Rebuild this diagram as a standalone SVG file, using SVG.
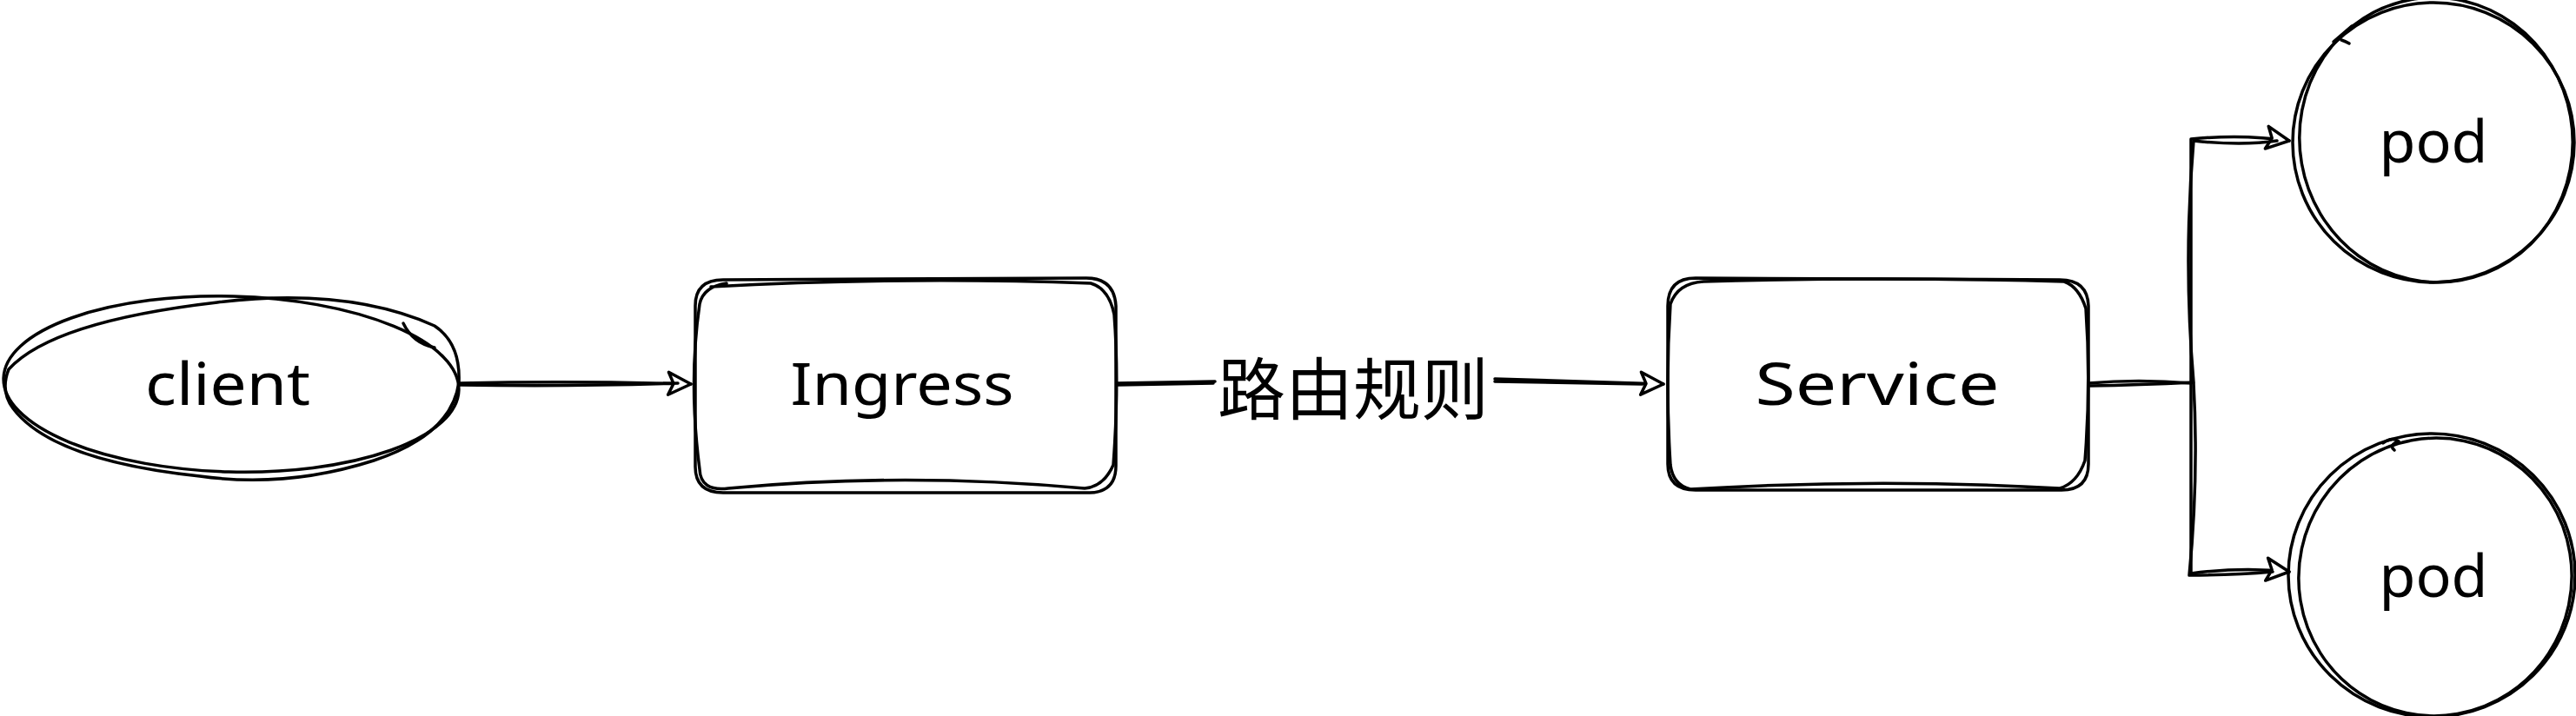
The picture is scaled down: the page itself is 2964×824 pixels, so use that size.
<svg xmlns="http://www.w3.org/2000/svg" width="2964" height="824" viewBox="0 0 2964 824">
<defs>
<style>
.s{fill:none;stroke:#000;stroke-width:3.5;stroke-linecap:round;stroke-linejoin:round}
.t{font-family:"Noto Sans","DejaVu Sans",sans-serif;font-size:68px;fill:#000;text-anchor:middle}
.lbl{font-family:"Noto Sans CJK SC","Noto Sans",sans-serif;font-size:78px;fill:#000;text-anchor:middle}
</style>
<marker id="arr" viewBox="0 0 32 32" refX="29" refY="16" markerWidth="32" markerHeight="32" markerUnits="userSpaceOnUse" orient="auto">
<path d="M3,3 L29,16 L3,29 L9,16 Z" fill="#fff" stroke="#000" stroke-width="3.5" stroke-linejoin="round"/>
</marker>
</defs>
<rect width="2964" height="824" fill="#fff"/>

<g id="connectors">
<path class="s" d="M529,441 Q660,438 795,442" marker-end="url(#arr)"/>
<path class="s" d="M529,443 Q660,445 780,441"/>
<path class="s" d="M1285,441 L1398,439"/>
<path class="s" d="M1286,443 L1396,441"/>
<path class="s" d="M1720,436 L1914,442" marker-end="url(#arr)"/>
<path class="s" d="M1720,439 L1890,442"/>
<path class="s" d="M2403,441 Q2460,436 2521,441 L2521,160 Q2580,154 2634,162" marker-end="url(#arr)"/>
<path class="s" d="M2405,444 Q2460,443 2524,440 Q2512,300 2524,162 Q2580,168 2620,162"/>
<path class="s" d="M2521,441 L2521,660 Q2580,652 2634,658" marker-end="url(#arr)"/>
<path class="s" d="M2524,441 Q2530,550 2519,662 Q2570,662 2615,658"/>
<text class="lbl" x="1557" y="477">路由规则</text>
</g>

<g id="client">
<ellipse class="s" cx="266" cy="442" rx="262" ry="101" transform="rotate(1.5 266 442)"/>
<path class="s" d="M10,425 Q60,370 250,348 Q400,330 500,375 Q530,395 528,440 Q520,500 430,530 Q330,562 230,548 Q60,530 15,470 Q0,450 10,425"/>
<path class="s" d="M464,372 Q475,395 500,400"/>
<text class="t" x="262" y="466" textLength="190" lengthAdjust="spacingAndGlyphs">client</text>
</g>

<g id="ingress">
<path class="s" d="M832,322 L1250,320 Q1282,320 1284,352 L1284,536 Q1284,566 1254,567 L832,567 Q800,567 800,537 L800,352 Q800,322 832,322 Z"/>
<path class="s" d="M818,330 Q1040,318 1255,326 Q1276,332 1282,362 Q1288,440 1281,535 Q1270,560 1248,562 Q1040,543 838,562 Q806,566 805,540 Q792,440 805,350 Q809,330 836,326"/>
<text class="t" x="1038" y="466" textLength="257" lengthAdjust="spacingAndGlyphs">Ingress</text>
</g>

<g id="service">
<path class="s" d="M1951,320 L2370,322 Q2402,322 2403,352 L2403,534 Q2403,564 2372,564 L1951,564 Q1919,564 1919,534 L1919,352 Q1919,320 1951,320 Z"/>
<path class="s" d="M1960,324 Q2160,318 2375,324 Q2392,330 2400,355 Q2406,440 2399,530 Q2390,556 2370,562 Q2160,550 1945,563 Q1925,558 1922,535 Q1916,440 1922,350 Q1930,326 1960,324"/>
<text class="t" x="2160" y="466" textLength="281" lengthAdjust="spacingAndGlyphs">Service</text>
</g>

<g id="pod1">
<ellipse class="s" cx="2800" cy="164" rx="162" ry="161"/>
<ellipse class="s" cx="2803" cy="161" rx="157" ry="164" transform="rotate(-10 2803 161)"/>
<path class="s" d="M2685,48 L2706,30 M2694,46 Q2700,48 2703,50"/>
<text class="t" x="2800" y="187" textLength="125" lengthAdjust="spacingAndGlyphs">pod</text>
</g>

<g id="pod2">
<ellipse class="s" cx="2798" cy="662" rx="165" ry="163"/>
<ellipse class="s" cx="2802" cy="664" rx="157" ry="160" transform="rotate(12 2802 664)"/>
<path class="s" d="M2742,510 Q2752,502 2760,508 Q2748,512 2755,518"/>
<text class="t" x="2800" y="687" textLength="125" lengthAdjust="spacingAndGlyphs">pod</text>
</g>
</svg>
